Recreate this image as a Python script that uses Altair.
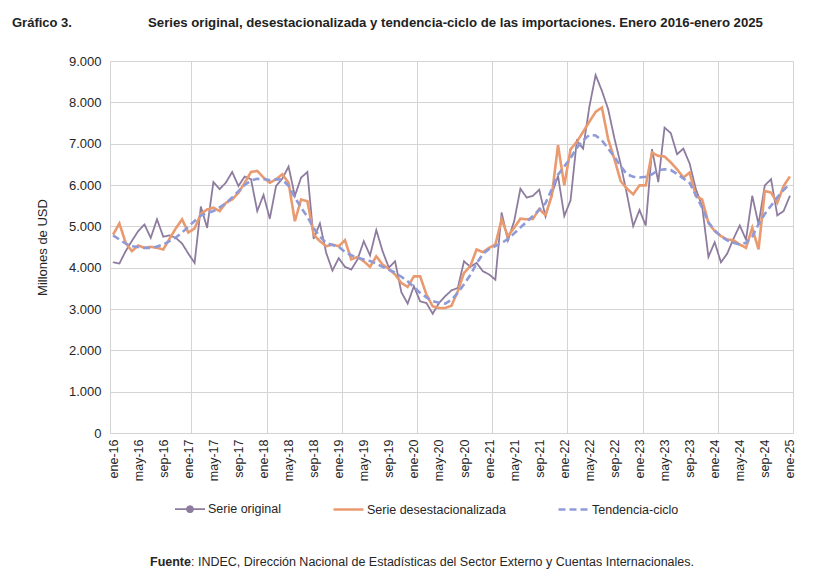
import json
import altair as alt
import pandas as pd

# ---------------- data (millones de USD, enero 2016 - enero 2025) ----------------
serie_original = [
    4130, 4100, 4400, 4650, 4885, 5045, 4720, 5170, 4750, 4780, 4720, 4585,   # 2016
    4340, 4115, 5475, 4965, 6070, 5900, 6060, 6315, 5975, 6205, 6140, 5370,   # 2017
    5760, 5185, 5975, 6155, 6445, 5735, 6180, 6315, 4700, 5070, 4360, 3930,   # 2018
    4230, 4020, 3955, 4200, 4640, 4295, 4910, 4400, 4000, 4155, 3405, 3130,   # 2019
    3550, 3185, 3145, 2885, 3145, 3310, 3450, 3510, 4155, 4020, 4115, 3915,   # 2020
    3835, 3710, 5330, 4660, 5125, 5910, 5695, 5740, 5885, 5240, 5775, 6220,   # 2021
    5250, 5630, 7070, 6880, 7890, 8660, 8280, 7835, 7130, 6500, 5775, 5005,   # 2022
    5395, 5020, 6865, 6075, 7390, 7255, 6745, 6880, 6520, 5900, 5490, 4260,   # 2023
    4615, 4130, 4340, 4700, 5020, 4680, 5735, 5050, 5990, 6140, 5265, 5370,   # 2024
    5735,                                                                     # 2025
]
serie_desest = [
    4800, 5070, 4600, 4400, 4535, 4480, 4505, 4480, 4440, 4700, 4950, 5170,
    4850, 4950, 5300, 5410, 5450, 5370, 5570, 5650, 5810, 6055, 6315, 6340,
    6180, 6055, 6140, 6260, 6055, 5125, 5650, 5610, 4800, 4640, 4520, 4560,
    4520, 4665, 4200, 4260, 4155, 4020, 4275, 4075, 3970, 3835, 3630, 3535,
    3790, 3790, 3350, 3065, 3025, 3025, 3080, 3430, 3875, 4035, 4440, 4375,
    4480, 4560, 5170, 4760, 4965, 5185, 5170, 5180, 5420, 5270, 5735, 6965,
    5990, 6865, 7045, 7285, 7530, 7770, 7875, 7110, 6625, 6095, 5910, 5775,
    5990, 5990, 6785, 6705, 6690, 6545, 6380, 6180, 6300, 5735, 5650, 5085,
    4885, 4765, 4680, 4665, 4560, 4480, 4965, 4440, 5855, 5815, 5570, 5975,
    6205,
]
tendencia = [
    4780, 4680, 4580, 4520, 4500, 4480, 4480, 4510, 4560, 4640, 4730, 4850,
    4990, 5130, 5260, 5320, 5370, 5460, 5560, 5700, 5850, 6000, 6110, 6150,
    6140, 6120, 6140, 6130, 5980, 5700, 5450, 5230, 4960, 4750, 4600, 4550,
    4510, 4380, 4300, 4240, 4200, 4160, 4100, 4020, 3950, 3880, 3780, 3670,
    3530, 3390, 3280, 3190, 3150, 3130, 3220, 3390, 3600, 3820, 4100, 4330,
    4450, 4520, 4600, 4690, 4830, 4970, 5110, 5250, 5400, 5560, 5900, 6250,
    6450, 6650, 6900, 7080, 7210, 7200, 7080, 6880, 6680, 6450, 6260, 6200,
    6180, 6200, 6260, 6360, 6380, 6360, 6270, 6160, 6050, 5750, 5450, 5100,
    4900, 4760, 4660, 4600, 4560, 4600, 4750, 5050, 5300, 5500, 5700, 5880,
    6030,
]
series_names = ["Serie original", "Serie desestacionalizada", "Tendencia-ciclo"]
series_colors = ["#8E7C9E", "#EA9A6F", "#8F9AD9"]
series_dash = [[1, 0], [1, 0], [7, 4]]
series_width = [1.8, 2.6, 2.6]
meses = ["ene", "feb", "mar", "abr", "may", "jun", "jul", "ago", "sep", "oct", "nov", "dic"]
anios = list(range(2016, 2026))
y_ticks = [0, 1000, 2000, 3000, 4000, 5000, 6000, 7000, 8000, 9000]

titulo_num = "Gráfico 3."
titulo = ("Series original, desestacionalizada y tendencia-ciclo de las importaciones. "
          "Enero 2016-enero 2025")
eje_y = "Millones de USD"
fuente_bold = "Fuente"
fuente_resto = (": INDEC, Dirección Nacional de Estadísticas del Sector Externo y "
                "Cuentas Internacionales.")

# ---------------- table ----------------
n = len(serie_original)
rows = []
for name, vals in zip(series_names, [serie_original, serie_desest, tendencia]):
    for i, v in enumerate(vals):
        rows.append({"idx": i, "serie": name, "valor": v})
df = pd.DataFrame(rows)

month_labels = [f"{meses[i % 12]}-{str(anios[i // 12])[2:]}" for i in range(n)]
tick_idx = list(range(0, n, 4))
tick_labels = [month_labels[i] for i in tick_idx]
grid_idx = [-0.5] + [i + 0.5 for i in range(12, n, 12)]
x_values = sorted(tick_idx + grid_idx)

FONT = "Liberation Sans, Arial, sans-serif"
GRID = "#D4D4D4"
TXT = "#262626"

x_enc = alt.X(
    "idx:Q",
    scale=alt.Scale(domain=[-0.5, n - 0.5], nice=False, zero=False),
    axis=alt.Axis(
        values=x_values,
        title=None,
        ticks=False,
        domain=False,
        labelAngle=-90,
        labelAlign="right",
        labelBaseline="middle",
        labelPadding=6,
        labelOverlap=False,
        labelFont=FONT,
        labelFontSize=12.5,
        labelColor=TXT,
        labelExpr=f"datum.value % 4 === 0 ? {json.dumps(tick_labels)}[datum.value / 4] : ''",
        grid=True,
        gridColor=GRID,
        gridWidth=1,
        gridOpacity=alt.condition("datum.value % 1 !== 0", alt.value(1), alt.value(0)),
    ),
)
y_enc = alt.Y(
    "valor:Q",
    scale=alt.Scale(domain=[y_ticks[0], y_ticks[-1]], nice=False),
    axis=alt.Axis(
        values=y_ticks,
        title=eje_y,
        titleFont=FONT,
        titleFontSize=13,
        titleFontWeight="normal",
        titleColor=TXT,
        titleAngle=-90,
        titleX=-68,
        titleBaseline="middle",
        ticks=False,
        domain=False,
        labelPadding=9,
        labelFont=FONT,
        labelFontSize=13,
        labelColor=TXT,
        labelExpr="replace(format(datum.value, ','), ',', '.')",
        grid=True,
        gridColor=GRID,
        gridWidth=1,
    ),
)

dot_path = "M-1,0H1M-0.2,0A0.2,0.2,0,1,1,0.2,0A0.2,0.2,0,1,1,-0.2,0Z"
line_path = "M-1,0H1"
legend = alt.Legend(
    title=None,
    orient="none",
    legendX=64,
    legendY=432,
    direction="horizontal",
    symbolSize=900,
    labelFont=FONT,
    labelFontSize=12.5,
    labelColor=TXT,
    labelOffset=2,
    columnPadding=47,
    padding=0,
)
color_enc = alt.Color("serie:N", scale=alt.Scale(domain=series_names, range=series_colors),
                      legend=legend)
dash_enc = alt.StrokeDash("serie:N", scale=alt.Scale(domain=series_names, range=series_dash),
                          legend=legend)
width_enc = alt.StrokeWidth("serie:N", scale=alt.Scale(type="ordinal", domain=series_names,
                                                       range=series_width), legend=legend)
shape_enc = alt.Shape("serie:N", scale=alt.Scale(domain=series_names,
                                                 range=[dot_path, line_path, line_path]),
                      legend=legend)

base = alt.Chart(df).encode(x=x_enc, y=y_enc)

lines = base.mark_line().encode(color=color_enc, strokeDash=dash_enc, strokeWidth=width_enc)
pts_orig = base.transform_filter(alt.datum.serie == series_names[0]).mark_point(
    filled=True, size=30, opacity=1
).encode(color=color_enc, shape=shape_enc)


def label(text, x, y, size, weight="normal", font=FONT, color="#000000"):
    return alt.Chart(pd.DataFrame({"t": [text]})).mark_text(
        align="left", baseline="alphabetic", font=font, fontSize=size,
        fontWeight=weight, color=color,
    ).encode(x=alt.value(x), y=alt.value(y), text="t:N")


t1 = label(titulo_num, -98, -34, 13, "bold", FONT, "#222222")
t2 = label(titulo, 38, -34, 13.2, "bold", FONT, "#222222")
f1 = label(fuente_bold, 40, 505, 12.5, "bold", FONT, TXT)
f2 = label(fuente_resto, 81, 505, 12.5, "normal", FONT, TXT)

chart = alt.layer(lines, pts_orig, t1, t2, f1, f2).properties(
    width=683,
    height=372,
    autosize=alt.AutoSizeParams(type="none"),
    padding={"left": 102, "top": 53, "right": 21, "bottom": 140},
    background="white",
).configure_view(stroke=None)

chart.save("out.html", embed_options={"renderer": "svg", "actions": False})
